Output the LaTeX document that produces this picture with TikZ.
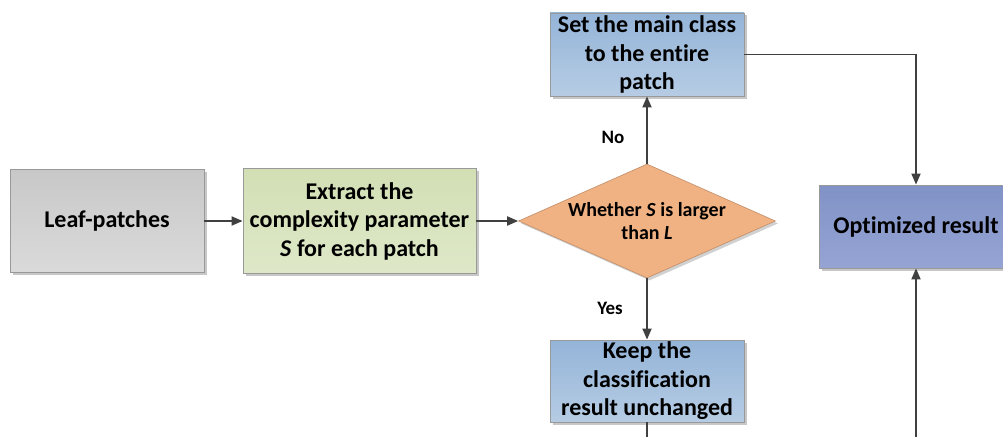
\documentclass[tikz,border=0pt]{standalone}
\usepackage{fontspec}
\setmainfont[Ligatures=NoCommon]{Carlito}
\usetikzlibrary{arrows.meta, positioning, shapes.geometric, shadows}
\definecolor{leaftop}{RGB}{200,200,200}
\definecolor{leafbot}{RGB}{218,218,218}
\definecolor{greentop}{RGB}{210,223,180}
\definecolor{greenbot}{RGB}{222,232,200}
\definecolor{bluetop}{RGB}{148,180,216}
\definecolor{bluebot}{RGB}{182,204,228}
\definecolor{peach}{RGB}{240,177,131}
\definecolor{violettop}{RGB}{128,146,198}
\definecolor{violetbot}{RGB}{150,164,212}
\definecolor{linegray}{RGB}{64,64,64}

\begin{document}
\begin{tikzpicture}[x=1pt, y=-1pt,
  box/.style={draw=black!40, line width=0.8pt, align=center, inner sep=2pt,
    font=\fontsize{24}{28.5}\selectfont\bfseries,
    drop shadow={shadow xshift=2.5pt, shadow yshift=-2.5pt, fill=black!22, opacity=1}},
  decision/.style={diamond, draw=peach!80!black, line width=0.6pt, fill=peach,
    minimum width=257pt, minimum height=114pt, inner sep=0pt,
    drop shadow={shadow xshift=2.5pt, shadow yshift=-2.5pt, fill=black!18, opacity=1}},
  dectext/.style={align=center, font=\fontsize{20}{23}\selectfont\bfseries},
  branch/.style={font=\fontsize{19}{22}\selectfont\bfseries},
  flow/.style={-{Triangle[length=11pt,width=9pt]}, line width=1.8pt, draw=linegray},
  plain/.style={line width=1.8pt, draw=linegray}]
  \clip (0,0) rectangle (1003,436);
  % left part
  \node[box, top color=leaftop, bottom color=leafbot, minimum width=194pt, minimum height=103pt]
    (leaf) at (107,221) {Leaf-patches};
  \node[box, top color=greentop, bottom color=greenbot, minimum width=233pt, minimum height=105pt]
    (extract) at (359.5,221) {Extract the\\complexity parameter\\\textit{S} for each patch};
  % decision
  \node[decision] (judge) at (647,221) {};
  \node[dectext] (judgetext) at (judge.center) {Whether \textit{S} is larger\\than \textit{L}};
  % branches
  \node[box, top color=bluetop, bottom color=bluebot, minimum width=194pt, minimum height=83pt]
    (setmain) at (647,54.5) {Set the main class\\to the entire\\patch};
  \node[box, top color=bluetop, bottom color=bluebot, minimum width=194pt, minimum height=82pt]
    (keep) at (647,381) {Keep the\\classification\\result unchanged};
  \node[box, top color=violettop, bottom color=violetbot, minimum width=194pt, minimum height=83pt]
    (result) at (916,226.5) {Optimized result};
  \node[branch] (nolabel) at (613,137) {No};
  \node[branch] (yeslabel) at (610,308) {Yes};
  \coordinate (keepend) at (647,450);
  \coordinate (resultin) at (916,450);
  % connectors
  \draw[flow] (leaf) -- (extract);
  \draw[flow] (extract) -- (judge);
  \draw[flow] (judge.north) -- (setmain.south);
  \draw[flow] (judge.south) -- (keep.north);
  \draw[flow] (setmain.east) -| (result.north);
  \draw[plain] (keep.south) -- (keepend);
  \draw[flow] (resultin) -- (result.south);
\end{tikzpicture}
\end{document}
